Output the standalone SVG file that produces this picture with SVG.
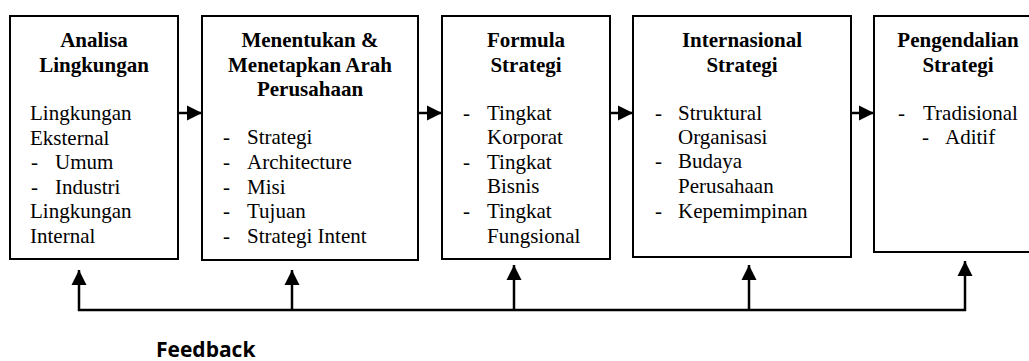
<svg xmlns="http://www.w3.org/2000/svg" width="1029" height="361" viewBox="0 0 1029 361">
<style>
.box{fill:#fff;stroke:#000;stroke-width:2}
.t{font-family:"Liberation Serif","Times New Roman",serif;font-size:21px;fill:#000}
.b{font-weight:bold;text-anchor:middle}
.ln{stroke:#000;stroke-width:2.5;fill:none}
.fb{font-family:"Open Sans","Liberation Sans",sans-serif;font-size:21px;font-weight:bold;fill:#000}
</style>
<defs>
<marker id="ah" markerUnits="userSpaceOnUse" markerWidth="16" markerHeight="16" refX="15" refY="8" orient="auto">
<path d="M0,0.5 L15,8 L0,15.5 Z" fill="#000"/>
</marker>
</defs>
<g id="n1">
<rect class="box" x="10" y="16" width="168" height="243"/>
<text class="t b" x="94" y="47">Analisa</text>
<text class="t b" x="94" y="72">Lingkungan</text>
<text class="t" x="30" y="120">Lingkungan</text>
<text class="t" x="30" y="145">Eksternal</text>
<text class="t" x="31" y="169">-</text><text class="t" x="55" y="169">Umum</text>
<text class="t" x="31" y="194">-</text><text class="t" x="55" y="194">Industri</text>
<text class="t" x="30" y="218">Lingkungan</text>
<text class="t" x="30" y="243">Internal</text>
</g>
<g id="n2">
<rect class="box" x="202" y="16" width="216" height="244"/>
<text class="t b" x="310" y="47">Menentukan &amp;</text>
<text class="t b" x="310" y="72">Menetapkan Arah</text>
<text class="t b" x="310" y="96">Perusahaan</text>
<text class="t" x="223" y="144">-</text><text class="t" x="247" y="144">Strategi</text>
<text class="t" x="223" y="169">-</text><text class="t" x="247" y="169">Architecture</text>
<text class="t" x="223" y="194">-</text><text class="t" x="247" y="194">Misi</text>
<text class="t" x="223" y="218">-</text><text class="t" x="247" y="218">Tujuan</text>
<text class="t" x="223" y="243">-</text><text class="t" x="247" y="243">Strategi Intent</text>
</g>
<g id="n3">
<rect class="box" x="442" y="16" width="168" height="243"/>
<text class="t b" x="526" y="47">Formula</text>
<text class="t b" x="526" y="72">Strategi</text>
<text class="t" x="463" y="120">-</text><text class="t" x="487" y="120">Tingkat</text>
<text class="t" x="487" y="144">Korporat</text>
<text class="t" x="463" y="169">-</text><text class="t" x="487" y="169">Tingkat</text>
<text class="t" x="487" y="193">Bisnis</text>
<text class="t" x="463" y="218">-</text><text class="t" x="487" y="218">Tingkat</text>
<text class="t" x="487" y="243">Fungsional</text>
</g>
<g id="n4">
<rect class="box" x="633" y="16" width="218" height="241"/>
<text class="t b" x="742" y="47">Internasional</text>
<text class="t b" x="742" y="72">Strategi</text>
<text class="t" x="655" y="120">-</text><text class="t" x="678" y="120">Struktural</text>
<text class="t" x="678" y="144">Organisasi</text>
<text class="t" x="655" y="168">-</text><text class="t" x="678" y="168">Budaya</text>
<text class="t" x="678" y="193">Perusahaan</text>
<text class="t" x="655" y="218">-</text><text class="t" x="678" y="218">Kepemimpinan</text>
</g>
<g id="n5">
<rect class="box" x="874" y="16" width="170" height="236"/>
<text class="t b" x="958" y="47">Pengendalian</text>
<text class="t b" x="958" y="72">Strategi</text>
<text class="t" x="898" y="120">-</text><text class="t" x="923" y="120">Tradisional</text>
<text class="t" x="922" y="144">-</text><text class="t" x="945" y="144">Aditif</text>
</g>
<g id="connectors">
<line class="ln" x1="178" y1="113" x2="202" y2="113" marker-end="url(#ah)"/>
<line class="ln" x1="418" y1="113" x2="442" y2="113" marker-end="url(#ah)"/>
<line class="ln" x1="610" y1="113" x2="633" y2="113" marker-end="url(#ah)"/>
<line class="ln" x1="851" y1="113" x2="874" y2="113" marker-end="url(#ah)"/>
<line class="ln" x1="78" y1="310" x2="966" y2="310"/>
<line class="ln" x1="79" y1="311" x2="79" y2="270" marker-end="url(#ah)"/>
<line class="ln" x1="292" y1="311" x2="292" y2="270" marker-end="url(#ah)"/>
<line class="ln" x1="514" y1="311" x2="514" y2="265" marker-end="url(#ah)"/>
<line class="ln" x1="749" y1="311" x2="749" y2="265" marker-end="url(#ah)"/>
<line class="ln" x1="965" y1="311" x2="965" y2="261" marker-end="url(#ah)"/>
</g>
<text class="fb" x="156" y="357">Feedback</text>
</svg>
